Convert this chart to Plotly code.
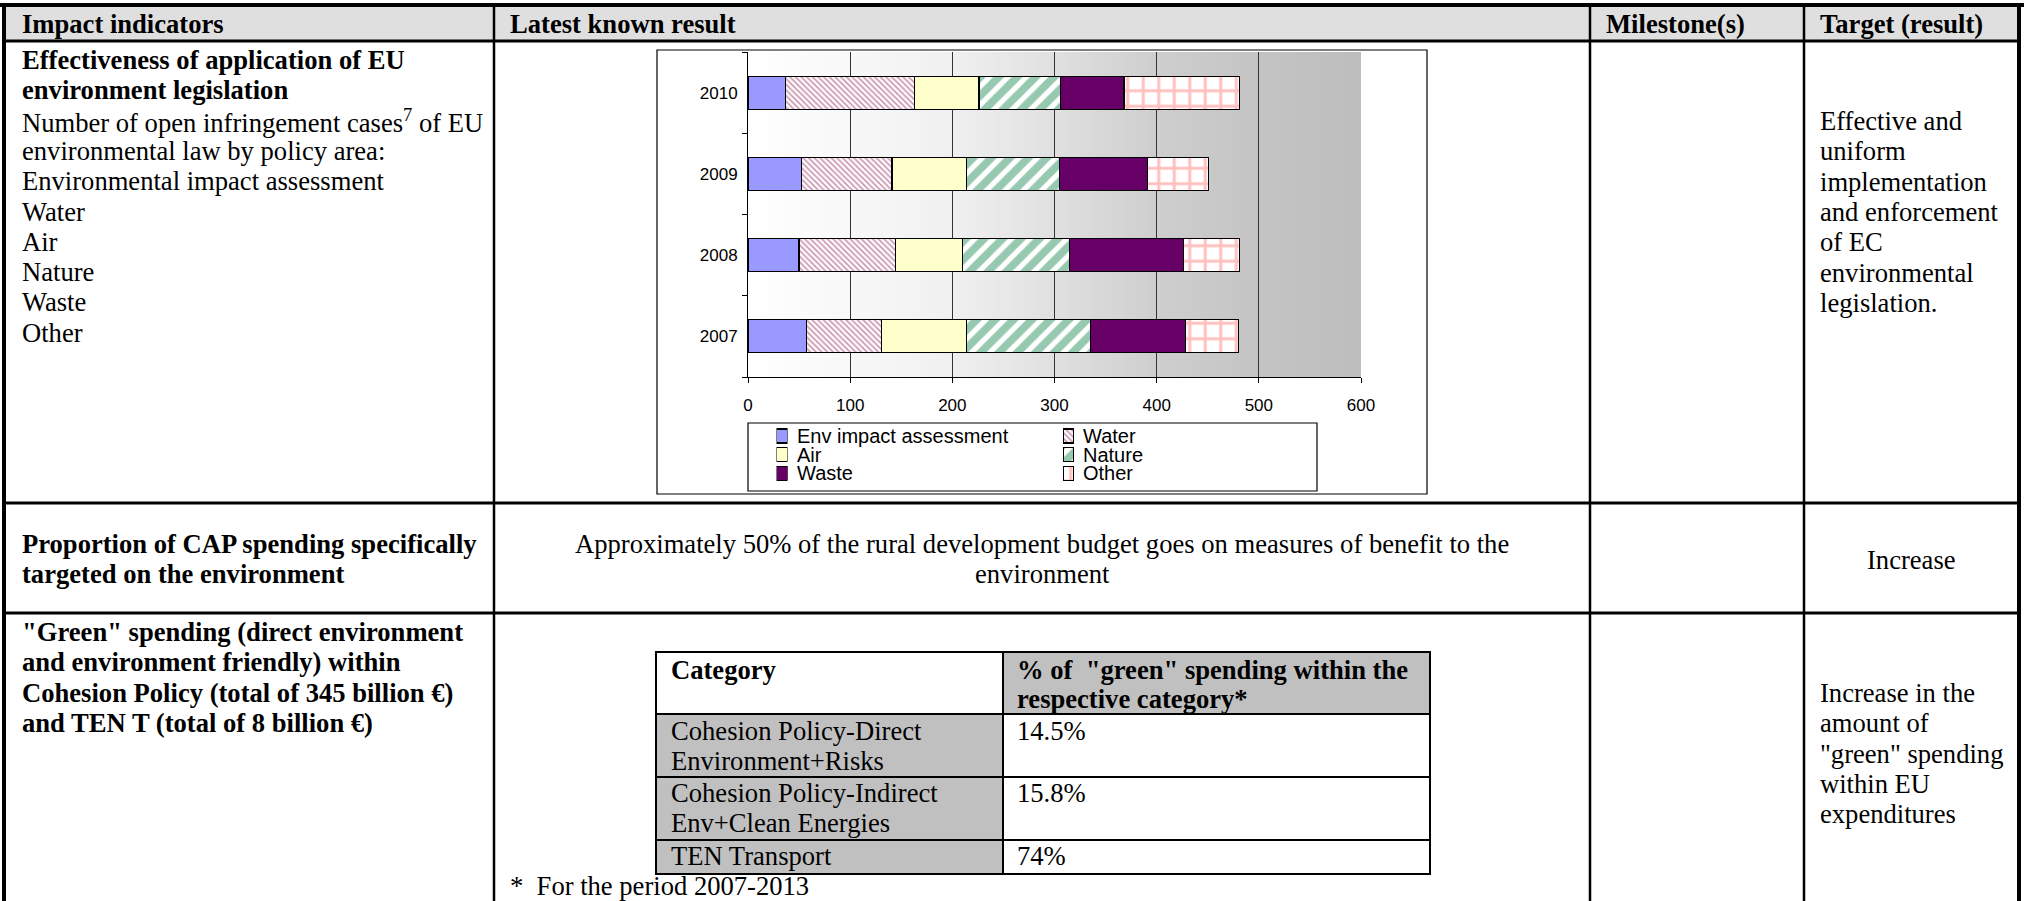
import plotly.graph_objects as go

W, H = 2024, 901
# paper region = embedded chart (plot area + legend), in page pixels
PL, PR, PT, PB = 748, 1361, 52, 494
PLOT_BOTTOM = 377   # x axis line of the chart

SERIF = 'Times New Roman, Liberation Serif, serif'
SANS = 'Arial, Liberation Sans, sans-serif'

# ---- chart data (open infringement cases by policy area) ----
years = ['2007', '2008', '2009', '2010']
env_impact = [57, 50, 52, 37]
water = [74, 94, 89, 126]
air = [83, 66, 73, 63]
nature = [121, 105, 91, 80]
waste = [93, 111, 86, 62]
other = [52, 55, 60, 113]
x_ticks = [0, 100, 200, 300, 400, 500, 600]

series_names = ['Env impact assessment', 'Water', 'Air', 'Nature', 'Waste', 'Other']
series_values = [env_impact, water, air, nature, waste, other]

# ---- green spending table ----
green_categories = [['Cohesion Policy-Direct', 'Environment+Risks'],
                    ['Cohesion Policy-Indirect', 'Env+Clean Energies'],
                    ['TEN Transport']]
green_shares = ['14.5%', '15.8%', '74%']

# bar styles (Excel 2003 palette with hatches)
STYLES = {
    'Env impact assessment': dict(color='#9999ff'),
    'Water': dict(color='#993366', pattern=dict(shape='\\', fgcolor='#993366', bgcolor='white',
                                               size=4, solidity=0.45)),
    'Air': dict(color='#ffffcc'),
    'Nature': dict(color='#339966', pattern=dict(shape='/', fgcolor='#2f9463', bgcolor='white',
                                                size=13, solidity=0.6)),
    'Waste': dict(color='#660066'),
    'Other': dict(color='#ff8080', pattern=dict(shape='+', fgcolor='#ff8080', bgcolor='white',
                                               size=15.5, solidity=0.35)),
}


def fx(px):
    """page pixel -> paper x"""
    return (px - PL) / (PR - PL)


def fy(py):
    """page pixel -> paper y"""
    return (PB - py) / (PB - PT)


def make_marker(name):
    st = STYLES[name]
    marker = dict(color=st['color'], line=dict(color='black', width=1.2))
    if 'pattern' in st:
        marker['pattern'] = st['pattern']
    return marker


fig = go.Figure()

for name, vals in zip(series_names, series_values):
    fig.add_trace(go.Bar(
        y=years, x=vals, orientation='h', name=name, marker=make_marker(name),
        showlegend=False,
        hovertemplate='%{y}<br>' + name + ': %{x}<extra></extra>'
    ))

# legend keys: two small subplots (one per legend column), one bar per key
LEG_COLS = [(776.5, 787.5), (1063, 1074)]
LEG_TEXT_X = [795, 1081]
LEG_ROWS = [436, 454.6, 473.2]
row_pitch = LEG_ROWS[1] - LEG_ROWS[0]
for k, name in enumerate(series_names):
    col, row = k % 2, k // 2
    fig.add_trace(go.Bar(
        x=[1], y=[row], orientation='h', width=[14 / row_pitch], name=name,
        marker=make_marker(name), showlegend=False, cliponaxis=False, hoverinfo='skip',
        xaxis='x%d' % (col + 2), yaxis='y%d' % (col + 2)
    ))

shapes = []

# gradient background of the plot area (white -> grey)
anchors = [(0, 255), (100, 248), (200, 240), (300, 224), (400, 206), (500, 196), (600, 189)]


def grey_at(v):
    for (a0, g0), (a1, g1) in zip(anchors[:-1], anchors[1:]):
        if a0 <= v <= a1:
            return g0 + (g1 - g0) * (v - a0) / (a1 - a0)
    return anchors[-1][1]


step = 5
for i in range(0, 600, step):
    g = int(round(grey_at(i + step / 2)))
    # strips overlap a little so no seams show between them
    shapes.append(dict(type='rect', xref='x', yref='y domain', x0=i, x1=min(i + 2 * step, 600),
                       y0=0, y1=1, fillcolor='rgb({0},{0},{0})'.format(g),
                       line=dict(width=0), layer='below'))


def rect(x0, y0, x1, y1, fill=None, lw=0, lc='black', layer='below'):
    shapes.append(dict(type='rect', xref='paper', yref='paper',
                       x0=fx(x0), x1=fx(x1), y0=fy(y0), y1=fy(y1),
                       fillcolor=fill if fill else 'rgba(0,0,0,0)',
                       line=dict(width=lw, color=lc), layer=layer))


def line(x0, y0, x1, y1, lw):
    shapes.append(dict(type='line', xref='paper', yref='paper',
                       x0=fx(x0), x1=fx(x1), y0=fy(y0), y1=fy(y1),
                       line=dict(width=lw, color='black'), layer='above'))


# page table
rect(4, 5, 2019, 41, fill='#dfdfdf')
line(0, 5, W, 5, 4)
line(4, 3, 4, H, 4)
line(2019, 3, 2019, H, 4)
line(4, 41, 2019, 41, 3)
line(4, 503, 2019, 503, 3)
line(4, 613, 2019, 613, 3)
for cx in [494, 1590, 1804]:
    line(cx, 5, cx, H, 2.5)

# chart frame and legend box
rect(657, 50, 1427, 494, lw=1.2, layer='above')
rect(748, 423, 1317, 491, fill='white', lw=1.2)

# green spending table
TL, TM, TR = 656, 1003, 1430
row_y = [652, 714, 777, 840, 874]
rect(TM, row_y[0], TR, row_y[1], fill='#c0c0c0')
rect(TL, row_y[1], TM, row_y[-1], fill='#c0c0c0')
rect(TL, row_y[0], TR, row_y[-1], lw=2, layer='above')
line(TM, row_y[0], TM, row_y[-1], 2)
for ry in row_y[1:-1]:
    line(TL, ry, TR, ry, 2)

PITCH = 30.3
FS = 26.6


def text(x, y, s, bold=False, anchor='left', size=FS, family=SERIF):
    fig.add_annotation(x=fx(x), y=fy(y), xref='paper', yref='paper', text=s,
                       showarrow=False, xanchor=anchor, yanchor='middle',
                       font=dict(family=family, size=size, color='black',
                                 weight='bold' if bold else 'normal'))


def lines(x, y0, items, bold=False, anchor='left', pitch=PITCH):
    for k, s in enumerate(items):
        text(x, y0 + k * pitch, s, bold=bold, anchor=anchor)


# header row
text(20, 24, 'Impact indicators', bold=True)
text(508, 24, 'Latest known result', bold=True)
text(1604, 24, 'Milestone(s)', bold=True)
text(1818, 24, 'Target (result)', bold=True)

# row 1
lines(20, 60, ['Effectiveness of application of EU', 'environment legislation'], bold=True)
lines(20, 60 + 2 * PITCH, ['Number of open infringement cases<sup>7</sup> of EU',
                           'environmental law by policy area:',
                           'Environmental impact assessment',
                           'Water', 'Air', 'Nature', 'Waste', 'Other'])
lines(1818, 121, ['Effective and', 'uniform', 'implementation', 'and enforcement',
                  'of EC', 'environmental', 'legislation.'])

# legend labels
for k, name in enumerate(series_names):
    text(LEG_TEXT_X[k % 2], LEG_ROWS[k // 2], name, size=20, family=SANS)

# row 2
lines(20, 544, ['Proportion of CAP spending specifically', 'targeted on the environment'], bold=True)
lines(1042, 544, ['Approximately 50% of the rural development budget goes on measures of benefit to the',
                  'environment'], anchor='center')
text(1911, 560, 'Increase', anchor='center')

# row 3
lines(20, 632, ['"Green" spending (direct environment', 'and environment friendly) within',
                'Cohesion Policy (total of 345 billion €)', 'and TEN T (total of 8 billion €)'],
      bold=True)
lines(1818, 693, ['Increase in the', 'amount of', '"green" spending', 'within EU', 'expenditures'])

text(669, 670, 'Category', bold=True)
lines(1015, 670, ['% of  "green" spending within the', 'respective category*'], bold=True, pitch=29)
cell_text_y = [731, 793, 856]
for cy, cat, share in zip(cell_text_y, green_categories, green_shares):
    lines(669, cy, cat, pitch=30)
    text(1015, cy, share)
text(508, 886, '*  For the period 2007-2013')

hidden = dict(visible=False, fixedrange=True)
fig.update_layout(
    width=W, height=H, autosize=False,
    margin=dict(l=PL, r=W - PR, t=PT, b=H - PB, pad=0, autoexpand=False),
    paper_bgcolor='white', plot_bgcolor='rgba(0,0,0,0)',
    barmode='stack', bargap=0.594,
    shapes=shapes,
    showlegend=False,
    xaxis=dict(range=[0, 600], tickvals=x_ticks, ticks='outside', ticklen=5, tickcolor='black',
               showline=True, linecolor='black', linewidth=1, zeroline=False,
               showgrid=True, gridcolor='#333333', gridwidth=1, ticklabelstandoff=8,
               tickfont=dict(family=SANS, size=17, color='black'), fixedrange=True),
    yaxis=dict(type='category', categoryorder='array', categoryarray=years,
               domain=[fy(PLOT_BOTTOM), 1],
               tickson='boundaries', ticks='outside', ticklen=5, tickcolor='black',
               showline=True, linecolor='black', linewidth=1, showgrid=False,
               tickfont=dict(family=SANS, size=17, color='black'),
               ticklabelstandoff=6, fixedrange=True),
    xaxis2=dict(domain=[fx(LEG_COLS[0][0]), fx(LEG_COLS[0][1])], range=[0, 1], anchor='y2', **hidden),
    yaxis2=dict(domain=[fy(LEG_ROWS[-1] + row_pitch / 2), fy(LEG_ROWS[0] - row_pitch / 2)],
                range=[2.5, -0.5], anchor='x2', **hidden),
    xaxis3=dict(domain=[fx(LEG_COLS[1][0]), fx(LEG_COLS[1][1])], range=[0, 1], anchor='y3', **hidden),
    yaxis3=dict(domain=[fy(LEG_ROWS[-1] + row_pitch / 2), fy(LEG_ROWS[0] - row_pitch / 2)],
                range=[2.5, -0.5], anchor='x3', **hidden),
)

fig.write_html("out.html", config={'displayModeBar': False},
               post_script="document.body.style.margin='0px';document.body.style.overflow='hidden';")
